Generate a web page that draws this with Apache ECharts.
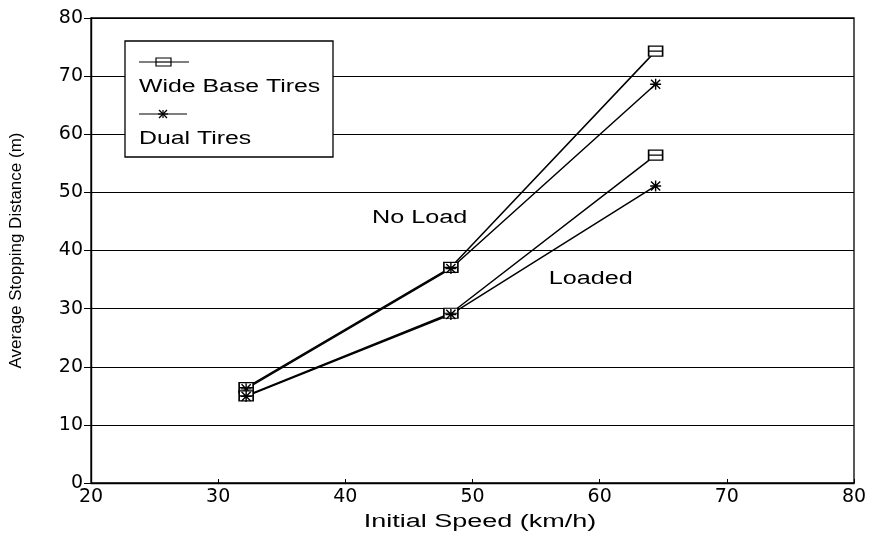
<!DOCTYPE html>
<html>
<head>
<meta charset="utf-8">
<script src="https://cdn.jsdelivr.net/npm/echarts@6/dist/echarts.min.js"></script>
<style>
  html, body { margin: 0; padding: 0; background: #fff; }
  #chart { width: 875px; height: 539px; }
</style>
</head>
<body>
<div id="chart"></div>
<script>
// Initial speed (km/h) for the three test runs
const speeds = [32.2, 48.3, 64.4];

// Average stopping distance (m)
const wideNoLoad = [16.4, 37.1, 74.3];
const dualNoLoad = [16.2, 36.9, 68.6];
const wideLoaded = [15.0, 29.2, 56.4];
const dualLoaded = [14.9, 29.0, 51.1];

const xTicks = [20, 30, 40, 50, 60, 70, 80];
const yTicks = [0, 10, 20, 30, 40, 50, 60, 70, 80];

const legendNames = ['Wide Base Tires', 'Dual Tires'];
const xAxisTitle = 'Initial Speed (km/h)';
const yAxisTitle = 'Average Stopping Distance (m)';
const annotations = [
  { text: 'No Load', at: [45.85, 45.6] },
  { text: 'Loaded', at: [59.3, 35.1] }
];

// Marker shapes: a box crossed by a horizontal bar, and an asterisk
const boxSymbol = 'path://M0,0 L14,0 L14,10 L0,10 Z M0,5 L14,5';
const starSymbol = 'path://M0,6 L12,6 M6,0 L6,12 M1,1 L11,11 M11,1 L1,11';

const font = '"Liberation Sans", Arial, sans-serif';
const wideFont = '"DejaVu Sans", "Liberation Sans", sans-serif';
const stretch = 1.38; // horizontal stretch for the extended lettering

function pairs(values) {
  return speeds.map((s, i) => [s, values[i]]);
}

function makeSeries(name, values, symbol, size) {
  return {
    name: name,
    type: 'line',
    data: pairs(values),
    symbol: symbol,
    symbolSize: size,
    showAllSymbol: true,
    lineStyle: { color: '#000', width: 1.5 },
    itemStyle: { color: '#fff', borderColor: '#000', borderWidth: 1.4 },
    emphasis: { disabled: true },
    z: 3
  };
}

const chart = echarts.init(document.getElementById('chart'), null, { renderer: 'canvas' });

const option = {
  animation: false,
  backgroundColor: '#fff',
  grid: {
    left: 91, right: 21, top: 18, bottom: 56,
    show: true, borderColor: '#000', borderWidth: 1.3, backgroundColor: 'transparent'
  },
  xAxis: {
    type: 'value',
    min: xTicks[0], max: xTicks[xTicks.length - 1], interval: 10,
    axisLine: { show: true, lineStyle: { color: '#000', width: 1.4 } },
    axisTick: { show: true, inside: true, length: 4, lineStyle: { color: '#000' } },
    axisLabel: { fontFamily: wideFont, fontSize: 19, color: '#000', margin: 5 },
    splitLine: { show: false }
  },
  yAxis: {
    type: 'value',
    min: yTicks[0], max: yTicks[yTicks.length - 1], interval: 10,
    name: yAxisTitle,
    nameLocation: 'middle',
    nameGap: 66,
    nameTextStyle: { fontFamily: '"Liberation Sans Narrow", "Liberation Sans", Arial, sans-serif', fontSize: 17, color: '#000' },
    axisLine: { show: true, lineStyle: { color: '#000', width: 1.4 } },
    axisTick: { show: true, inside: false, length: 7, lineStyle: { color: '#000' } },
    axisLabel: { fontFamily: wideFont, fontSize: 19, color: '#000', margin: 8 },
    splitLine: { show: true, lineStyle: { color: '#000', width: 1.1 } }
  },
  series: [
    makeSeries(legendNames[0], wideNoLoad, boxSymbol, [14, 10]),
    makeSeries(legendNames[1], dualNoLoad, starSymbol, 11),
    makeSeries(legendNames[0] + ' (loaded)', wideLoaded, boxSymbol, [14, 10]),
    makeSeries(legendNames[1] + ' (loaded)', dualLoaded, starSymbol, 11)
  ]
};

chart.setOption(option);

// Stretched text element anchored at (x, y)
function label(text, x, y, size, align, sx) {
  return {
    type: 'text', x: x, y: y, scaleX: sx || stretch, z: 11,
    style: { text: text, font: size + 'px ' + font, fill: '#000', textAlign: align, textVerticalAlign: 'middle' }
  };
}

// Legend box with the line/marker sample above each label, plus the load annotations
const lx = 125, ly = 41, lw = 208, lh = 116;
const stroke = { stroke: '#000', lineWidth: 1.2 };
function seg(x1, y1, x2, y2) {
  return { type: 'line', shape: { x1: x1, y1: y1, x2: x2, y2: y2 }, style: stroke, z: 12 };
}
const bx = lx + 31, by = ly + 17, sx = lx + 38, sy = ly + 73;
const graphics = [
  { type: 'rect', shape: { x: lx, y: ly, width: lw, height: lh },
    style: { fill: '#fff', stroke: '#000', lineWidth: 1.3 }, z: 10 },
  seg(lx + 14, ly + 21, lx + 64, ly + 21),
  { type: 'rect', shape: { x: bx, y: by, width: 15, height: 8 },
    style: { fill: '#fff', stroke: '#000', lineWidth: 1.2 }, z: 12 },
  seg(bx, by + 4, bx + 15, by + 4),
  label(legendNames[0], lx + 14, ly + 46, 18, 'left'),
  seg(lx + 14, sy, lx + 62, sy),
  seg(sx - 5, sy, sx + 5, sy),
  seg(sx, sy - 4, sx, sy + 4),
  seg(sx - 4, sy - 4, sx + 4, sy + 4),
  seg(sx + 4, sy - 4, sx - 4, sy + 4),
  label(legendNames[1], lx + 14, ly + 98, 18, 'left'),
  label(xAxisTitle, 480, 522, 18, 'center', 1.5)
];
annotations.forEach(a => {
  const p = chart.convertToPixel({ gridIndex: 0 }, a.at);
  graphics.push(label(a.text, p[0], p[1], 18, 'center', 1.4));
});
chart.setOption({ graphic: graphics });
</script>
</body>
</html>
